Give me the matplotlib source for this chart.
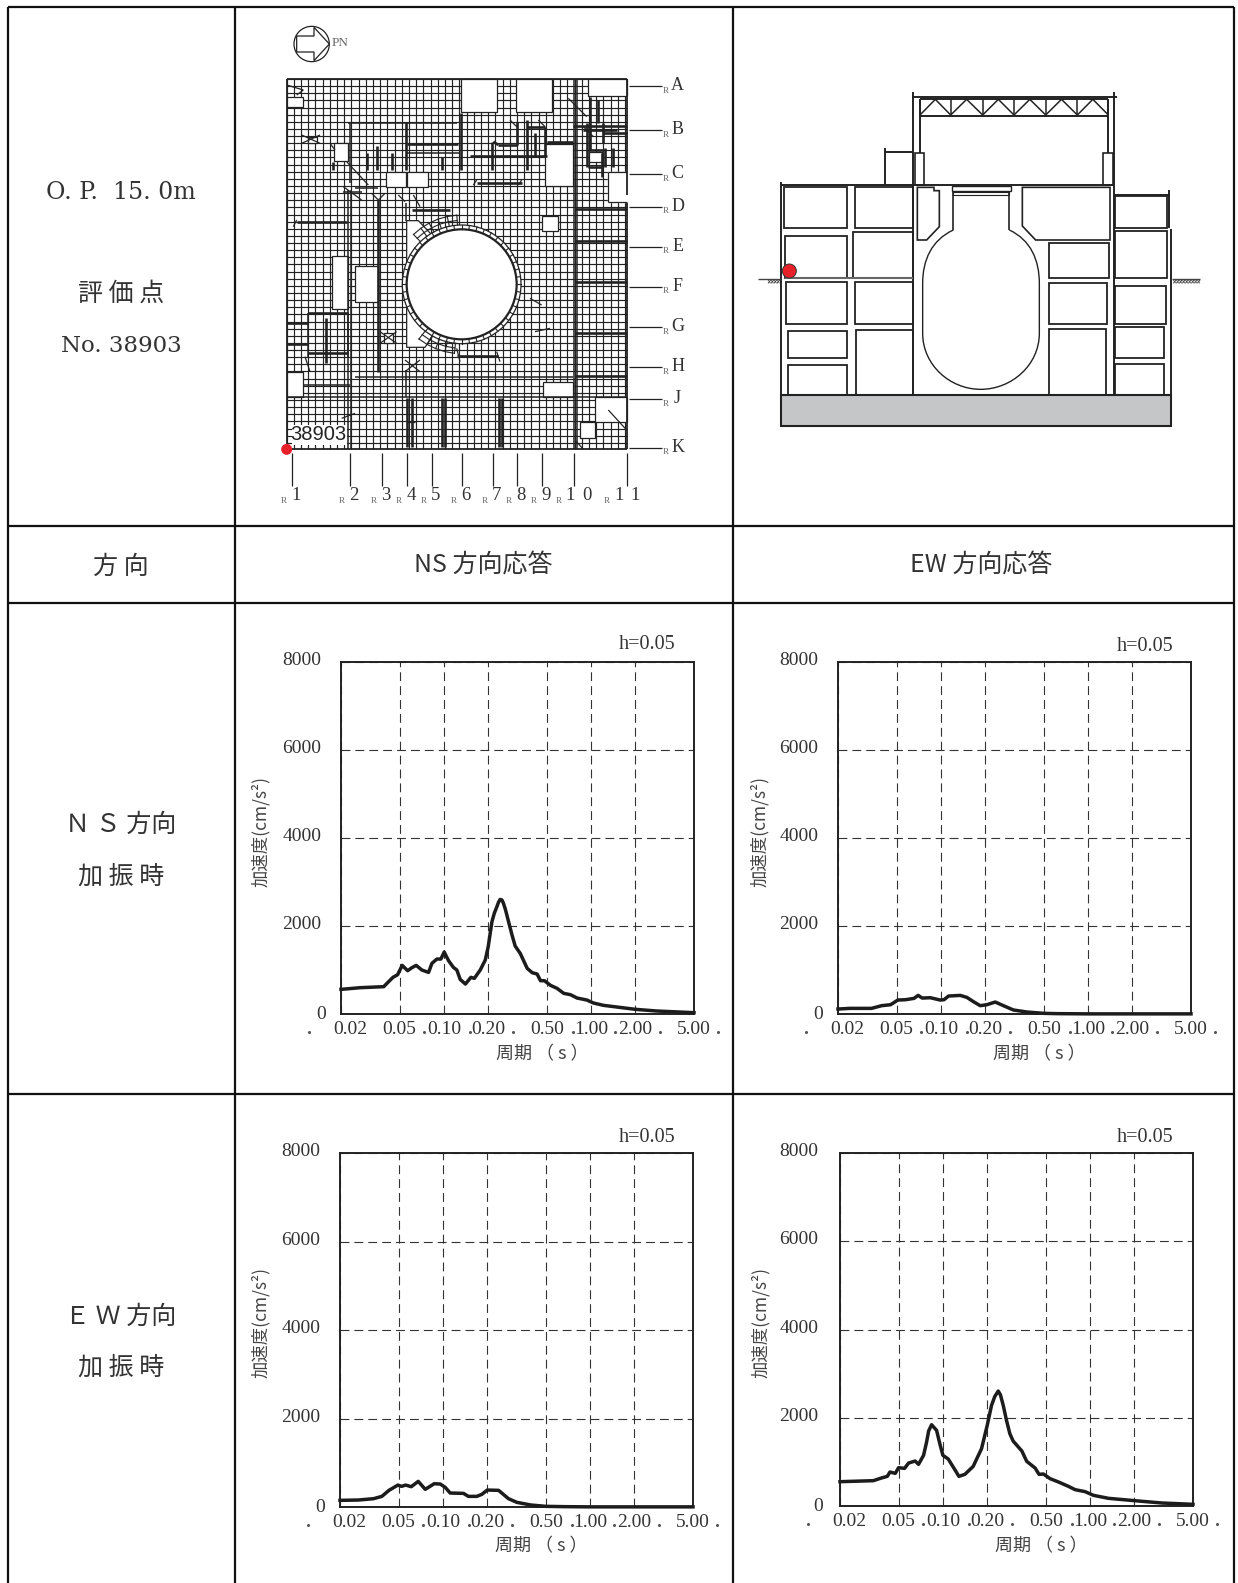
import numpy as np
import matplotlib
matplotlib.use("Agg")
import matplotlib.pyplot as plt
from matplotlib.patches import Rectangle, Circle, Polygon, PathPatch
from matplotlib.path import Path
from matplotlib.transforms import ScaledTranslation

# ---------- data ----------
period_ns_ns = [0.020,0.027,0.039,0.0421,0.0451,0.0485,0.0521,0.0567,0.0606,0.0648,0.0709,0.0787,0.0829,0.0896,0.0954,0.1005,0.1076,0.116,0.1225,0.129,0.140,0.1525,0.161,0.1765,0.191,0.200,0.212,0.220,0.229,0.235,0.241,0.248,0.254,0.262,0.275,0.29,0.305,0.33,0.368,0.398,0.43,0.453,0.482,0.53,0.587,0.652,0.724,0.803,0.935,1.037,1.212,1.493,2.0,2.79,5.0]
accel_ns_ns = [560,598,621,734,833,893,1105,984,1052,1105,999,946,1151,1249,1249,1408,1211,1060,999,787,681,833,810,999,1226,1529,2097,2290,2438,2540,2604,2590,2513,2370,2097,1800,1544,1378,1037,939,908,757,757,651,583,469,439,363,318,250,197,159,106,68,30]

period_ns_ew = [0.02,0.0241,0.0338,0.0396,0.0455,0.0510,0.0576,0.0656,0.0701,0.0746,0.0847,0.099,0.105,0.1127,0.1353,0.15,0.1667,0.185,0.205,0.234,0.266,0.311,0.385,0.5,0.615,1.0,5.0]
accel_ns_ew = [113,128,128,189,211,317,325,355,423,362,370,317,325,408,423,378,279,189,211,272,189,91,45,15,8,3,3]

period_ew_ns = [0.02,0.0268,0.0338,0.0385,0.043,0.0495,0.0524,0.0558,0.061,0.068,0.0759,0.0873,0.096,0.1037,0.112,0.138,0.149,0.17,0.184,0.2,0.239,0.279,0.318,0.396,0.5,0.666,1.0,5.0]
accel_ew_ns = [150,158,188,240,376,496,466,496,459,579,399,526,519,444,316,308,240,240,286,383,376,188,105,45,15,8,3,3]

period_ew_ew = [0.02,0.0337,0.0382,0.0419,0.0437,0.0475,0.05,0.0549,0.0585,0.0648,0.0683,0.0739,0.0775,0.080,0.0838,0.0906,0.0953,0.1,0.1087,0.1206,0.1284,0.141,0.1606,0.183,0.2,0.214,0.225,0.2376,0.246,0.257,0.27,0.285,0.30,0.344,0.371,0.423,0.45,0.482,0.535,0.61,0.713,0.791,0.925,1.053,1.332,2.0,3.07,5.0]
accel_ew_ew = [551,574,634,672,770,740,868,853,974,1019,944,1148,1450,1700,1842,1714,1412,1148,1065,823,672,717,898,1299,1827,2280,2480,2605,2520,2280,1950,1638,1472,1246,1012,861,717,725,619,544,445,370,325,242,174,121,68,38]

x_ticks = [0.02,0.05,0.10,0.20,0.50,1.00,2.00,5.00]
x_tick_labels = ["0.02","0.05","0.10","0.20","0.50","1.00","2.00","5.00"]
y_ticks = [0,2000,4000,6000,8000]
y_tick_labels = ["0","2000","4000","6000","8000"]

grid_rows = ["A","B","C","D","E","F","G","H","J","K"]
grid_cols = ["1","2","3","4","5","6","7","8","9","1 0","1 1"]

# ---------- figure ----------
W, H = 1238, 1583
CJK = ["Noto Sans CJK JP", "Liberation Serif"]
SER = ["Liberation Serif", "Noto Sans CJK JP"]
INK = "#222222"
fig = plt.figure(figsize=(W/100, H/100), dpi=100, facecolor="white")
bg = fig.add_axes([0, 0, 1, 1])
bg.set_xlim(0, W); bg.set_ylim(H, 0); bg.axis("off")

# table rules
for x in [8, 235, 733, 1234]:
    bg.plot([x, x], [7, H], color="#111111", lw=1.6, solid_capstyle="butt")
for y in [7, 526, 603, 1094]:
    bg.plot([8, 1234], [y, y], color="#111111", lw=1.6, solid_capstyle="butt")

def label(x, y, s, size=16, fam=CJK, **kw):
    bg.text(x, y, s, fontsize=size, family=fam, color="#333333", ha="center", va="center", **kw)

label(121, 192, "O. P.  15. 0m", 17, ["DejaVu Serif"])
label(121, 294, "評 価 点", 18)
label(121, 346, "No. 38903", 16.5, ["DejaVu Serif"])
label(121, 567, "方 向", 18)
label(483, 566, "NS 方向応答", 18)
label(981, 566, "EW 方向応答", 18)
label(121, 825, "Ｎ Ｓ 方向", 18)
label(121, 877, "加 振 時", 18)
label(121, 1317, "Ｅ Ｗ 方向", 18)
label(121, 1368, "加 振 時", 18)

# ---------- plan ----------
def P(x, y):
    return 240 + x/3, 10 + y/3
def pl(x0, y0, x1, y1, lw=0.85, c=INK, z=2):
    a, b = P(x0, y0), P(x1, y1)
    bg.plot([a[0], b[0]], [a[1], b[1]], color=c, lw=lw, zorder=z, solid_capstyle="butt")
def prect(x0, y0, x1, y1, ec=INK, lw=0.9, z=3):
    a = P(x0, y0)
    bg.add_patch(Rectangle(a, (x1-x0)/3, (y1-y0)/3, fc="white", ec=ec, lw=lw, zorder=z))

# compass
c = P(215, 102)
bg.add_patch(Circle(c, 53/3, fc="white", ec=INK, lw=0.9))
bg.add_patch(Polygon([P(*q) for q in [(170,78),(222,78),(222,52),(268,102),(222,152),(222,126),(170,126)]],
                     fc="white", ec=INK, lw=0.9, zorder=3))
bg.text(*P(299, 100), "PN", fontsize=9.5, family=SER, color="#666666", ha="center", va="center", stretch="condensed")

# mesh
for x in np.arange(140, 1161, 21.6):
    pl(x, 207, x, 1318)
for y in np.arange(207, 1319, 21.4):
    pl(140, y, 1160, y)

openings = [(662,208,772,305),(828,208,936,305),(1045,208,1160,257),(142,260,190,292),(282,400,325,452),
            (437,485,497,532),(500,485,565,532),(915,403,1000,528),(905,618,955,662),(275,737,325,897),
            (345,768,415,877),(142,1085,190,1160),(910,1117,1000,1160),(1065,1162,1160,1237),
            (1020,1235,1065,1285),(1048,427,1085,455),(205,380,232,398),(432,970,458,998)]
for r in openings:
    prect(*r)
prect(1105, 485, 1163, 575, ec="white", lw=1.0)
pl(1105, 485, 1105, 575, 0.9, z=4); pl(1105, 485, 1160, 485, 0.9, z=4); pl(1105, 575, 1160, 575, 0.9, z=4)

# white area west of the vessel
bg.add_patch(Polygon([P(*q) for q in [(500,632),(535,632),(590,690),(590,960),(555,1012),(500,1012)]],
                     fc="white", ec=INK, lw=0.9, zorder=3))
# ring of the vessel wall
cc = P(665, 823)
bg.add_patch(Circle(cc, 178/3, fc="white", ec=INK, lw=0.9, zorder=4))
for a in np.deg2rad(np.arange(-60, 300, 7.5)):
    bg.plot([cc[0]+165/3*np.cos(a), cc[0]+178/3*np.cos(a)],
            [cc[1]+165/3*np.sin(a), cc[1]+178/3*np.sin(a)], color=INK, lw=0.8, zorder=5)
bg.add_patch(Circle(cc, 165/3, fc="white", ec=INK, lw=1.6, zorder=6))
# radial cells NW and SW of the ring
for lo, hi in [(226, 268), (96, 134)]:
    angs = np.deg2rad(np.arange(lo, hi+1, 8))
    for a in angs:
        bg.plot([cc[0]+178/3*np.cos(a), cc[0]+208/3*np.cos(a)],
                [cc[1]+178/3*np.sin(a), cc[1]+208/3*np.sin(a)], color=INK, lw=0.8, zorder=5)
    bg.plot(cc[0]+208/3*np.cos(angs), cc[1]+208/3*np.sin(angs), color=INK, lw=0.8, zorder=5)
    bg.plot(cc[0]+192/3*np.cos(angs), cc[1]+192/3*np.sin(angs), color=INK, lw=0.8, zorder=5)

# walls
thick = [(500,402,655,402),(497,335,497,480),(412,408,412,480),(380,430,380,480),(455,430,455,480),(605,440,605,480),
         (662,310,662,480),(757,395,757,480),(860,330,860,480),(885,370,885,440),(690,438,920,438),(775,405,830,405),
         (830,335,830,405),(915,350,915,438),(860,350,915,350),(920,395,1000,395),(1000,348,1160,348),(1075,270,1075,340),
         (1050,260,1050,420),(1090,370,1160,370),(710,520,845,520),(170,635,320,635),(415,570,415,1085),
         (1005,598,1160,598),(1005,692,1160,692),(1005,815,1160,815),(1005,968,1160,968),(1005,1098,1160,1098),
         (650,1037,775,1037),(140,938,205,938),(140,1002,205,1002),(258,925,258,1060),(500,1165,500,1310),(516,1165,516,1310),
         (605,1165,605,1310),(614,1165,614,1310),(776,1165,776,1310),(786,1165,786,1310),(1085,430,1085,500),
         (1120,415,1120,470),(1095,415,1095,470),(280,455,280,480),(515,600,630,600),(205,910,325,910),(205,1030,325,1030),
         (1040,340,1040,470),(1090,340,1090,400),(1030,360,1130,360),(760,395,775,405),(1045,420,1090,420),(1045,470,1090,470)]
for t in thick:
    pl(*t, lw=1.9, z=4)
medium = [(325,540,325,1318),(333,540,333,1318),(1003,208,1003,1318),(1012,208,1012,1318),(497,580,497,632),(497,1080,497,1160),
          (140,1160,1160,1160),(325,340,650,340),(330,340,330,520),(190,1125,330,1125),(205,910,205,1040),(325,910,325,1040),
          (345,1100,1000,1100),(500,430,660,430),(310,545,365,545),(345,535,415,535)]
for t in medium:
    pl(*t, lw=1.1, z=3)
haunch = [(185,375,240,400),(185,400,240,375),(270,400,285,420),(320,455,385,525),(310,530,365,570),(395,550,415,570),(415,570,435,550),
          (475,555,495,575),(520,555,540,590),(985,265,1040,320),(810,330,830,350),(895,330,915,350),(1030,350,1060,380),
          (170,630,160,650),(845,510,835,525),(710,510,700,525),(870,865,905,885),(885,965,930,955),(420,965,470,1000),(470,965,420,1000),
          (495,1050,540,1085),(540,1050,495,1085),(650,1015,660,1055),(770,1025,780,1055),(195,1040,210,1085),(1005,1290,1030,1318),
          (1105,1200,1160,1260),(140,225,190,240),(190,240,170,255),(305,1225,345,1210),(500,1235,525,1235)]
for t in haunch:
    pl(*t, lw=0.9, z=4)
# outer frame
for t in [(140,207,1160,207),(140,207,140,1318),(140,1318,1160,1318),(1160,207,1160,555),(1160,578,1160,1318)]:
    pl(*t, lw=1.3, z=5)

# node label
a = P(155, 1245)
bg.add_patch(Rectangle(a, 165/3, 60/3, fc="white", ec="none", zorder=6))
bg.text(*P(236, 1273), "38903", fontsize=14.5, family=["Liberation Sans"], color="#222222",
        ha="center", va="center", zorder=7)
bg.add_patch(Circle(P(140, 1318), 5.5, fc="#e8202a", ec="none", zorder=8))

# grid leaders
row_y = [228, 361, 493, 590, 710, 830, 951, 1071, 1167, 1313]
for name, y in zip(grid_rows, row_y):
    pl(1167, y, 1265, y, lw=0.9)
    bg.text(*P(1276, y+14), "R", fontsize=6.5, family=SER, color="#666666", ha="center", va="center")
    bg.text(*P(1313, y-2), name, fontsize=13, family=SER, color="#333333", ha="center", va="center")
col_x = [157, 329, 426, 501, 575, 666, 758, 832, 907, 1003, 1161]
for name, x in zip(grid_cols, col_x):
    pl(x, 1330, x, 1428, lw=0.9)
    r_off = {"1 0": -48, "1 1": -61}.get(name, -25)
    bg.text(*P(x+r_off, 1472), "R", fontsize=6.5, family=SER, color="#666666", ha="center", va="center")
    parts = name.split()
    offs = {"1 0": [-13, 37], "1 1": [-23, 24]}.get(name, [12])
    for ch, o in zip(parts, offs):
        bg.text(*P(x+o, 1455), ch, fontsize=13.5, family=SER, color="#333333", ha="center", va="center")

# ---------- section ----------
def S(x, y):
    return 740 + x/3, 70 + y/3
def sl(pts, lw=1.3, c=INK, z=3, closed=False, fc="none"):
    q = [S(*p) for p in pts]
    if closed:
        bg.add_patch(Polygon(q, closed=True, fc=fc, ec=c, lw=lw, zorder=z))
    else:
        bg.plot([p[0] for p in q], [p[1] for p in q], color=c, lw=lw, zorder=z, solid_capstyle="butt")

rooms = [(132,350,320,473),(345,350,518,473),(135,497,320,625),(338,485,518,625),(138,637,320,762),(345,637,518,762),
         (144,782,320,865),(348,780,518,975),(144,885,320,975),(1124,378,1282,473),(1124,483,1280,625),(1124,648,1278,762),
         (1124,770,1272,865),(1124,882,1272,975),(926,518,1108,625),(926,638,1100,762),(926,776,1098,975)]
for r in rooms:
    sl([(r[0],r[1]),(r[2],r[1]),(r[2],r[3]),(r[0],r[3])], closed=True, z=3)

sl([(122,975),(1292,975),(1292,1068),(122,1068)], lw=1.5, closed=True, fc="#c5c6c8", z=3)
walls = [[(122,335),(122,975)],[(122,345),(518,345)],[(435,235),(435,345)],[(435,247),(518,247)],
         [(518,65),(518,975)],[(1122,65),(1122,975)],[(515,80),(1130,80)],[(540,138),(1105,138)],
         [(540,88),(540,248)],[(1103,88),(1103,248)],[(518,345),(1122,345)],[(1292,478),(1292,975)],
         [(1124,375),(1290,375)],[(1287,360),(1287,475)],[(540,88),(1105,88)]]
for w in walls:
    sl(w, lw=1.4)
truss_x = [540, 632, 728, 822, 917, 1012, 1105]
for i in range(len(truss_x)-1):
    x0, x1 = truss_x[i], truss_x[i+1]
    m = (x0+x1)/2
    sl([(x0,88),(x0,135)], lw=1.1)
    sl([(x0,135),(m,88),(x1,135)], lw=1.1)
sl([(1105,88),(1105,135)], lw=1.1)
sl([(525,248),(552,248),(552,345),(525,345)], closed=True, lw=1.2)
sl([(1090,250),(1118,250),(1118,345),(1090,345)], closed=True, lw=1.2)
sl([(532,352),(582,352),(582,362),(598,362),(598,470),(560,510),(532,510)], closed=True, lw=1.2)
sl([(847,352),(1110,352),(1110,510),(887,510),(847,468)], closed=True, lw=1.2)
sl([(635,348),(812,348),(812,362),(635,362)], closed=True, lw=1.0)
sl([(640,366),(806,366),(806,376),(640,376)], closed=True, lw=0.8)
sl([(640,362),(640,480)], lw=1.2); sl([(808,362),(808,480)], lw=1.2)

verts = [S(640,480), S(575,510), S(548,570), S(548,640), S(548,790),
         S(548,885), S(630,958), S(722,958), S(815,958), S(898,885), S(898,790),
         S(898,640), S(898,570), S(872,510), S(808,480)]
codes = [Path.MOVETO, Path.CURVE4, Path.CURVE4, Path.CURVE4, Path.LINETO,
         Path.CURVE4, Path.CURVE4, Path.CURVE4, Path.CURVE4, Path.CURVE4, Path.CURVE4,
         Path.LINETO, Path.CURVE4, Path.CURVE4, Path.CURVE4]
bg.add_patch(PathPatch(Path(verts, codes), fc="none", ec=INK, lw=1.0, zorder=3))

sl([(55,627),(120,627)], lw=1.0, c="#444444"); sl([(1295,627),(1380,627)], lw=1.0, c="#444444")
for x0 in list(range(84, 120, 9)) + list(range(1300, 1380, 9)):
    sl([(x0,640),(x0+8,630)], lw=0.7, c="#444444")
    sl([(x0+8,640),(x0,630)], lw=0.5, c="#444444")
sl([(135,625),(518,625)], lw=1.5, c="#666666", z=4)
bg.add_patch(Circle(S(148, 603), 7, fc="#e8202a", ec="#333333", lw=0.7, zorder=8))

# ---------- response spectra ----------
stray_dx = [-32, 83, 129, 172, 232, 274, 319, 377]

def chart(box, T, A, ylabel_x, xlabel_y, h_xy, pad=14):
    l, t, r, b = box
    ax = fig.add_axes([l/W, 1-b/H, (r-l)/W, (b-t)/H])
    ax.patch.set_alpha(0)
    ax.set_xscale("log")
    ax.set_xlim(0.02, 5); ax.set_ylim(0, 8000)
    ax.plot(T, A, color="#1c1c1c", lw=2.5, solid_joinstyle="round", clip_on=False, zorder=4)
    ax.set_yticks(y_ticks, y_tick_labels, fontsize=14, family=SER, color="#333333")
    ax.set_xticks(x_ticks, x_tick_labels, fontsize=14, family=SER, color="#333333")
    ax.minorticks_off()
    ax.tick_params(axis="both", length=0, color="#333333")
    ax.tick_params(axis="y", pad=pad)
    ax.tick_params(axis="x", pad=5)
    ax.grid(True, color="#333333", lw=0.8, dashes=(8, 4.5), zorder=1)
    for s in ax.spines.values():
        s.set_linewidth(1.4); s.set_color("#222222")
    up = ScaledTranslation(0, 2.5/72, fig.dpi_scale_trans)
    for lab in ax.get_yticklabels()[1:]:
        lab.set_transform(lab.get_transform() + up)
    zero = ax.get_yticklabels()[0]
    zero.set_transform(zero.get_transform() + ScaledTranslation(3.5/72, 1/72, fig.dpi_scale_trans))
    first = ax.get_xticklabels()[0]
    first.set_transform(first.get_transform() + ScaledTranslation(6.5/72, 0, fig.dpi_scale_trans))
    bg.text(ylabel_x, (t+b)/2 - 7, "加速度(cm/s²)", rotation=90, fontsize=12.5, family=CJK, color="#444444",
            ha="center", va="center")
    bg.text((l+r)/2 + 25, xlabel_y, "周期 （ s ）", fontsize=13, family=CJK, color="#444444", ha="center", va="center")
    bg.text(*h_xy, "h=0.05", fontsize=14.5, family=SER, color="#333333", ha="center", va="center")
    bg.plot([l+d for d in stray_dx], [b+18]*len(stray_dx), ls="none", marker="o", ms=1.2, color="#555555")

chart((341, 662, 694, 1014), period_ns_ns, accel_ns_ns, 261, 1054, (647, 644))
chart((838, 662, 1191, 1014), period_ns_ew, accel_ns_ew, 760, 1054, (1145, 646))
chart((340, 1153, 693, 1507), period_ew_ns, accel_ew_ns, 261, 1546, (647, 1138))
chart((840, 1153, 1193, 1506), period_ew_ew, accel_ew_ew, 761, 1546, (1145, 1137), pad=15.5)

fig.savefig("out.png", dpi=100, facecolor="white")
